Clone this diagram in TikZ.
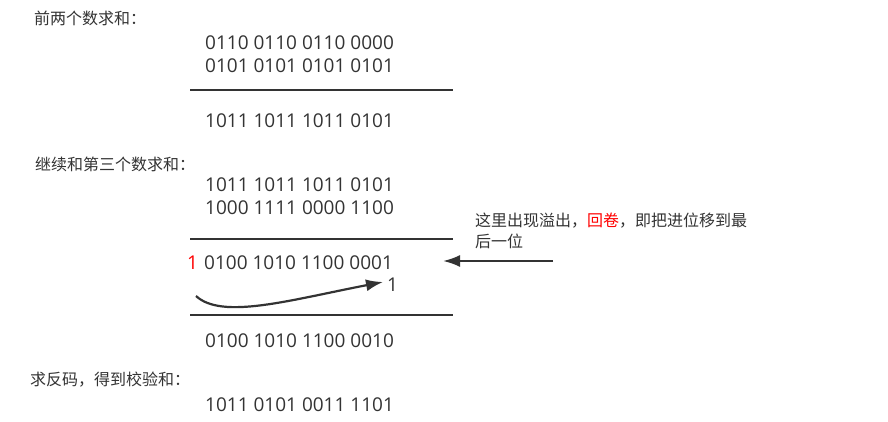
\documentclass[tikz,border=0pt]{standalone}
\usepackage{fontspec}
\setmainfont{Open Sans}
\newfontfamily\cjk{Noto Sans CJK SC}
\usetikzlibrary{arrows.meta}
\definecolor{ink}{HTML}{333333}
\tikzset{
  title/.style={anchor=west,inner sep=0pt,text=ink,font=\cjk\fontsize{16}{18}\selectfont},
  bits/.style={anchor=west,inner sep=0pt,text=ink,font=\fontsize{19}{21}\selectfont},
  rule/.style={draw=ink,line width=2.6pt}
}
\begin{document}
\begin{tikzpicture}[x=1pt,y=-1pt,>={Latex[length=17pt,width=12pt]}]
\useasboundingbox (0,0) rectangle (888,422);
\node[title] (T1) at (34,18) {前两个数求和：};
\node[bits] (A1) at (205,43) {0110 0110 0110 0000};
\node[bits] (A2) at (205,66) {0101 0101 0101 0101};
\coordinate (L1a) at (190,90);
\coordinate (L1b) at (453,90);
\draw[rule] (L1a) -- (L1b);
\node[bits] (S1) at (205,121) {1011 1011 1011 0101};
\node[title] (T2) at (35,164) {继续和第三个数求和：};
\node[bits] (B1) at (205,185) {1011 1011 1011 0101};
\node[bits] (B2) at (205,208) {1000 1111 0000 1100};
\coordinate (L2a) at (190,239);
\coordinate (L2b) at (453,239);
\draw[rule] (L2a) -- (L2b);
\node[bits,text=red] (C) at (187,263) {1};
\node[bits] (S2) at (204,263) {0100 1010 1100 0001};
\node[bits] (carry) at (387,285) {1};
\coordinate (wrapA) at (196,296);
\coordinate (wrapB) at (383,282);
\draw[->,draw=ink,line width=2.2pt] (wrapA) .. controls (222,320) and (290,300) .. (wrapB);
\coordinate (L3a) at (190,315);
\coordinate (L3b) at (453,315);
\draw[rule] (L3a) -- (L3b);
\node[bits] (S3) at (205,341) {0100 1010 1100 0010};
\node[title] (T3) at (30,380) {求反码，得到校验和：};
\node[bits] (R) at (205,405) {1011 0101 0011 1101};
\node[title] (N1) at (475,221) {这里出现溢出，\textcolor{red}{回卷}，即把进位移到最};
\node[title] (N2) at (475,241) {后一位};
\coordinate (P0) at (553,261);
\coordinate (P1) at (443,261);
\draw[->,draw=ink,line width=2.2pt] (P0) -- (P1);
\end{tikzpicture}
\end{document}
